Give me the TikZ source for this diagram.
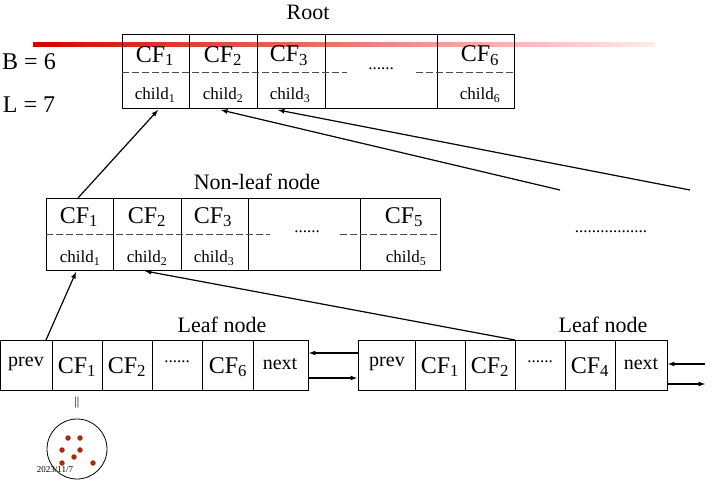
\documentclass[tikz,border=0pt]{standalone}
\usepackage{fontspec}
\setmainfont{Liberation Serif}
\newcommand{\sub}[1]{\textsubscript{#1}}
\definecolor{dotc}{RGB}{165,45,15}
\begin{document}
\begin{tikzpicture}[x=1pt,y=-1pt,
  box/.style={draw,line width=0.8pt},
  big/.style={font=\fontsize{24}{26}\selectfont,inner sep=0pt},
  sm/.style={font=\fontsize{17}{18}\selectfont,inner sep=0pt},
  pv/.style={font=\fontsize{20}{22}\selectfont,inner sep=0pt},
  ttl/.style={font=\fontsize{22}{24}\selectfont,inner sep=0pt},
  dsh/.style={gray!60!black,line width=0.9pt,dash pattern=on 7pt off 3pt},
  arr/.style={-latex,line width=1.2pt},
  dot/.style={circle,fill=dotc,inner sep=0pt,minimum size=5.5pt}]
\useasboundingbox (0,0) rectangle (721,485);
\shade[left color=red!85!black,right color=pink!30] (33,42.5) rectangle (655,46);
% Root
\node[ttl] (rootlbl) at (308,12) {Root};
\node[big] (B) at (29,62) {B = 6};
\node[big] (L) at (29,105) {L = 7};
\draw[box] (122,34) rectangle (514,108);
\foreach \x in {189,257,325,437} \draw[box] (\x,34)--(\x,108);
\draw[dsh] (122,72)--(347,72) (416,72)--(514,72);
\node[big] (r1) at (155,56) {CF\sub{1}};
\node[big] (r2) at (223,56) {CF\sub{2}};
\node[big] (r3) at (289,56) {CF\sub{3}};
\node[big] (r6) at (480,56) {CF\sub{6}};
\node[sm] (rd) at (381,69) {......};
\node[sm] (rc1) at (155,95) {child\sub{1}};
\node[sm] (rc2) at (223,95) {child\sub{2}};
\node[sm] (rc3) at (290,95) {child\sub{3}};
\node[sm] (rc6) at (480,95) {child\sub{6}};
% Non-leaf
\node[ttl] (nl) at (257,182) {Non-leaf node};
\draw[box] (46,198) rectangle (440,270);
\foreach \x in {113,181,248,360} \draw[box] (\x,198)--(\x,270);
\draw[dsh] (46,234)--(270,234) (340,234)--(440,234);
\node[big] (n1) at (79,217) {CF\sub{1}};
\node[big] (n2) at (147,217) {CF\sub{2}};
\node[big] (n3) at (213,217) {CF\sub{3}};
\node[big] (n5) at (404,217) {CF\sub{5}};
\node[sm] (nd) at (307,232) {......};
\node[sm] (nc1) at (80,258) {child\sub{1}};
\node[sm] (nc2) at (147,258) {child\sub{2}};
\node[sm] (nc3) at (214,258) {child\sub{3}};
\node[sm] (nc5) at (406,258) {child\sub{5}};
\node[sm] (far) at (611,232) {.................};
% Leaves
\node[ttl] (ll1) at (222,325) {Leaf node};
\node[ttl] (ll2) at (603,325) {Leaf node};
\draw[box] (0,340) rectangle (308,390);
\foreach \x in {52,102,152,202,253} \draw[box] (\x,340)--(\x,390);
\node[pv] (a0) at (26,364) {prev};
\node[big] (a1) at (77,367) {CF\sub{1}};
\node[big] (a2) at (127,367) {CF\sub{2}};
\node[sm] (a3) at (177,362) {......};
\node[big] (a4) at (228,367) {CF\sub{6}};
\node[pv] (a5) at (280,364) {next};
\draw[box] (358,340) rectangle (667,390);
\foreach \x in {415,465,515,565,615} \draw[box] (\x,340)--(\x,390);
\node[pv] (b0) at (387,364) {prev};
\node[big] (b1) at (440,367) {CF\sub{1}};
\node[big] (b2) at (490,367) {CF\sub{2}};
\node[sm] (b3) at (540,362) {......};
\node[big] (b4) at (590,367) {CF\sub{4}};
\node[pv] (b5) at (641,364) {next};
% arrows
\coordinate (p1) at (46,340); \coordinate (q1) at (76,272);
\draw[arr] (p1)--(q1);
\coordinate (p2) at (78,198); \coordinate (q2) at (158,110);
\draw[arr] (p2)--(q2);
\coordinate (p3) at (560,190); \coordinate (q3) at (221,110);
\draw[arr] (p3)--(q3);
\coordinate (p4) at (690,190); \coordinate (q4) at (278,110);
\draw[arr] (p4)--(q4);
\coordinate (p5) at (515,340); \coordinate (q5) at (145,271);
\draw[arr] (p5)--(q5);
\coordinate (l1) at (358,353); \coordinate (l2) at (309,353);
\draw[arr] (l1)--(l2);
\coordinate (l3) at (309,378); \coordinate (l4) at (357,378);
\draw[arr] (l3)--(l4);
\coordinate (m1) at (705,364); \coordinate (m2) at (668,364);
\draw[arr] (m1)--(m2);
\coordinate (m3) at (668,384); \coordinate (m4) at (705,384);
\draw[arr] (m3)--(m4);
% cluster
\node[font=\fontsize{12}{12}\selectfont] (eq) at (77,403) {||};
\node[draw,circle,minimum size=60pt,line width=0.8pt] (cl) at (77,449) {};
\foreach \x/\y in {68/438, 80/438, 62/450, 80/450, 74/457, 62/463, 93/463}
  \node[dot] at (\x,\y) {};
\node[font=\fontsize{9}{9}\selectfont] (dt) at (55,470) {2023/11/7};
\end{tikzpicture}
\end{document}
